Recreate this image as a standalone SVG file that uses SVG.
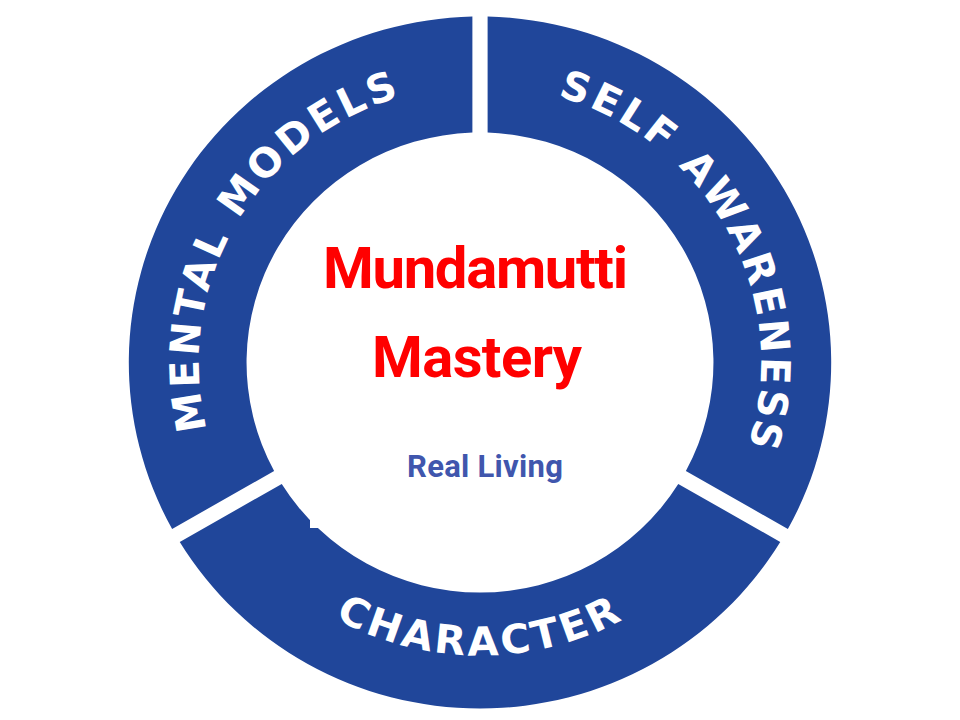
<svg xmlns="http://www.w3.org/2000/svg" width="960" height="720" viewBox="0 0 960 720">
  <style>
    .seg { fill: #20469a; }
    .lbl { fill: #ffffff; font-family: "DejaVu Sans", "Liberation Sans", sans-serif; font-weight: bold; font-size: 40px; letter-spacing: 3.2px; }
    .title { fill: #ff0000; font-family: Roboto, "Liberation Sans", sans-serif; font-weight: bold; font-size: 58px; }
    .sub { fill: #4056ad; font-family: Roboto, "Liberation Sans", sans-serif; font-weight: bold; font-size: 31px; }
  </style>
  <defs>
    <path id="arcMental" d="M 239.9 138.5 A 277 277 0 0 1 -239.9 -138.5 A 277 277 0 0 1 239.9 138.5"/>
    <path id="arcSelf" d="M -244.58 130.04 A 277 277 0 0 1 244.58 -130.04 A 277 277 0 0 1 -244.58 130.04"/>
    <path id="arcChar" d="M 0 -293 A 293 293 0 0 0 0 293 A 293 293 0 0 0 0 -293"/>
  </defs>
  <rect width="960" height="720" fill="#ffffff"/>
  <g transform="translate(480,362.5) scale(1.015,1)">
    <g id="mental-models">
      <path class="seg" d="M -303.32 166.47 A 346 346 0 0 1 -7.5 -345.92 L -7.5 -229.88 A 230 230 0 0 0 -202.83 108.45 Z"/>
      <text class="lbl" text-anchor="middle"><textPath href="#arcMental" startOffset="50%">MENTAL MODELS</textPath></text>
    </g>
    <g id="self-awareness">
      <path class="seg" d="M 7.5 -345.92 A 346 346 0 0 1 303.32 166.47 L 202.83 108.45 A 230 230 0 0 0 7.5 -229.88 Z"/>
      <text class="lbl" text-anchor="middle"><textPath href="#arcSelf" startOffset="50%">SELF AWARENESS</textPath></text>
    </g>
    <g id="character">
      <path class="seg" d="M 295.82 179.46 A 346 346 0 0 1 -295.82 179.46 L -195.33 121.44 A 230 230 0 0 0 195.33 121.44 Z"/>
      <text class="lbl" text-anchor="middle"><textPath href="#arcChar" startOffset="50%">CHARACTER</textPath></text>
    </g>
  </g>
  <rect x="310" y="500" width="20" height="28" fill="#ffffff"/>
  <g id="center">
    <text class="title" x="475.5" y="288" text-anchor="middle" textLength="305" lengthAdjust="spacing">Mundamutti</text>
    <text class="title" x="477" y="377" text-anchor="middle" textLength="210" lengthAdjust="spacing">Mastery</text>
    <text class="sub" x="485" y="477" text-anchor="middle" textLength="156" lengthAdjust="spacing">Real Living</text>
  </g>
  <g id="connectors"/>
</svg>
